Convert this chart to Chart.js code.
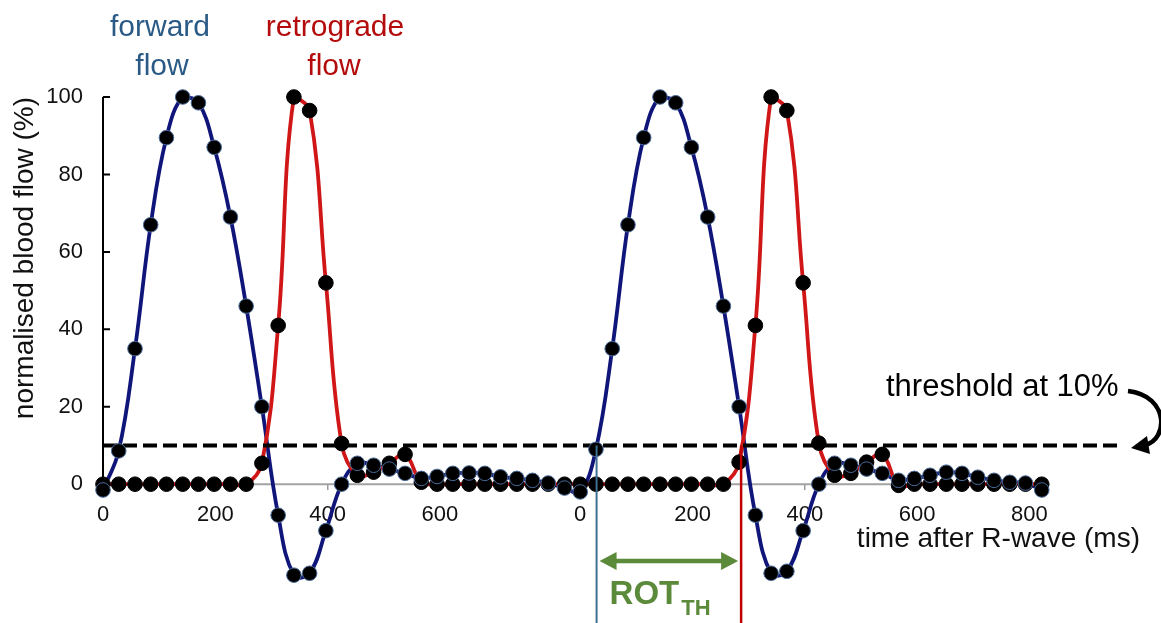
<!DOCTYPE html>
<html>
<head>
<meta charset="utf-8">
<script src="https://cdn.jsdelivr.net/npm/chart.js@4.4.0/dist/chart.umd.min.js"></script>
<style>
  html, body { margin: 0; padding: 0; background: #fff; }
  #wrap { width: 1161px; height: 623px; }
</style>
</head>
<body>
<div id="wrap"><canvas id="myChart" width="1161" height="623"></canvas></div>
<script>
// frame times within one cardiac cycle (ms after R-wave)
const frameTimes = [0, 28, 57, 85, 113, 142, 170, 198, 227, 255, 283, 312, 340, 368, 397, 425, 453, 482, 510, 538, 567, 595, 623, 652, 680, 708, 737, 765, 793, 822]
// where each cycle starts on the time axis
const cycleStarts = [0, 850]

// normalised flow (%) per frame
const forwardCycle1 = [-1.5, 8.6, 35, 67, 89.5, 100, 98.5, 87, 69, 46, 20, -8, -23.5, -23, -12, 0, 5.4, 4.9, 3.9, 2.8, 1.5, 2, 2.8, 2.9, 2.8, 1.9, 1.5, 1, 0.3, -1]
const retroCycle1 = [0, 0, 0, 0, 0, 0, 0, 0, 0, 0, 5.4, 41, 100, 96.5, 52, 10.5, 2.3, 3.1, 5.4, 7.7, 0.5, 0, 0, 0, 0, 0, 0, 0, 0, 0]
const forwardCycle2 = [-2, 9, 35, 67, 89.5, 100, 98.5, 87, 69, 46, 20, -8, -23, -22.5, -12, 0, 5.4, 4.9, 3.9, 2.8, 1, 1.5, 2.3, 3.1, 2.8, 1.8, 1, 0.5, 0.3, -1.5]
const retroCycle2 = [0, 0, 0, 0, 0, 0, 0, 0, 0, 0, 5.7, 41, 100, 96.5, 52, 10.6, 2.3, 2.8, 5.7, 7.7, -0.3, 0, 0, 0, 0, 0, 0, 0, 0, 0]

const xTickValues = [0, 200, 400, 600, 850, 1050, 1250, 1450, 1650]
const xTickLabels = ['0', '200', '400', '600', '0', '200', '400', '600', '800']
const yTickValues = [0, 20, 40, 60, 80, 100]

const thresholdValue = 10
const thresholdSpan = [0, 1810]

const FONT = "'Liberation Sans', Arial, sans-serif"
const BLUE = '#10157a'
const RED = '#d01616'
const GREEN = '#5a8a3a'

function buildPoints(cycles) {
  const pts = []
  cycles.forEach((vals, c) => {
    vals.forEach((v, k) => pts.push({ x: cycleStarts[c] + frameTimes[k], y: v }))
  })
  return pts
}

const forwardPoints = buildPoints([forwardCycle1, forwardCycle2])
const retroPoints = buildPoints([retroCycle1, retroCycle2])
const thresholdPoints = thresholdSpan.map((t) => ({ x: t, y: thresholdValue }))

// first upward crossing of the threshold, linear between frames
function crossingTime(values, level) {
  for (let i = 1; i < values.length; i++) {
    if (values[i - 1] < level && values[i] >= level) {
      const f = (level - values[i - 1]) / (values[i] - values[i - 1])
      return frameTimes[i - 1] + f * (frameTimes[i] - frameTimes[i - 1])
    }
  }
  return null
}

const annotations = {
  id: 'annotations',
  beforeDatasetsDraw(chart) {
    const { ctx, chartArea } = chart
    const xs = chart.scales.x
    const ys = chart.scales.y
    ctx.save()
    // grey zero line, only as far as the data goes
    const lastT = cycleStarts[cycleStarts.length - 1] + frameTimes[frameTimes.length - 1]
    ctx.strokeStyle = '#a3a3a3'
    ctx.lineWidth = 2
    ctx.beginPath()
    ctx.moveTo(xs.getPixelForValue(0), ys.getPixelForValue(0))
    ctx.lineTo(xs.getPixelForValue(lastT), ys.getPixelForValue(0))
    ctx.stroke()
    // y axis line from 0 to 100 with inside ticks
    ctx.strokeStyle = '#000'
    ctx.lineWidth = 2
    ctx.beginPath()
    ctx.moveTo(chartArea.left, ys.getPixelForValue(yTickValues[yTickValues.length - 1]))
    ctx.lineTo(chartArea.left, ys.getPixelForValue(yTickValues[0]))
    yTickValues.forEach((v) => {
      const py = ys.getPixelForValue(v)
      ctx.moveTo(chartArea.left, py)
      ctx.lineTo(chartArea.left + 7, py)
    })
    ctx.stroke()
    ctx.restore()
  },
  afterDatasetsDraw(chart) {
    const { ctx } = chart
    const xs = chart.scales.x
    const ys = chart.scales.y
    ctx.save()

    // ROT_TH markers on the second cycle
    const tFwd = cycleStarts[1] + crossingTime(forwardCycle2, thresholdValue)
    const tRet = cycleStarts[1] + crossingTime(retroCycle2, thresholdValue)
    const xa = xs.getPixelForValue(tFwd)
    const xb = xs.getPixelForValue(tRet)
    const yTh = ys.getPixelForValue(thresholdValue)
    ctx.lineWidth = 2
    ctx.strokeStyle = '#3f6f93'
    ctx.beginPath()
    ctx.moveTo(xa, yTh)
    ctx.lineTo(xa, chart.height)
    ctx.stroke()
    ctx.lineWidth = 2.5
    ctx.strokeStyle = '#c00000'
    ctx.beginPath()
    ctx.moveTo(xb, yTh)
    ctx.lineTo(xb, chart.height)
    ctx.stroke()

    // green double arrow
    const ay = 561
    const l = xa + 3
    const r = xb - 3
    ctx.strokeStyle = GREEN
    ctx.fillStyle = GREEN
    ctx.lineWidth = 4.5
    ctx.beginPath()
    ctx.moveTo(l + 12, ay)
    ctx.lineTo(r - 12, ay)
    ctx.stroke()
    ctx.beginPath()
    ctx.moveTo(l, ay)
    ctx.lineTo(l + 17, ay - 9)
    ctx.lineTo(l + 17, ay + 9)
    ctx.closePath()
    ctx.fill()
    ctx.beginPath()
    ctx.moveTo(r, ay)
    ctx.lineTo(r - 17, ay - 9)
    ctx.lineTo(r - 17, ay + 9)
    ctx.closePath()
    ctx.fill()

    ctx.textAlign = 'left'
    ctx.textBaseline = 'alphabetic'
    ctx.font = 'bold 33px ' + FONT
    ctx.fillText('ROT', xa + 13, 604)
    const w = ctx.measureText('ROT').width
    ctx.font = 'bold 22px ' + FONT
    ctx.fillText('TH', xa + 13 + w + 2, 615)

    // threshold label and curved arrow
    ctx.fillStyle = '#000'
    ctx.font = '31px ' + FONT
    ctx.fillText('threshold at 10%', 886, 396)
    ctx.strokeStyle = '#000'
    ctx.lineWidth = 4.5
    ctx.beginPath()
    ctx.moveTo(1128, 391)
    ctx.bezierCurveTo(1170, 396, 1168, 440, 1145, 445)
    ctx.stroke()
    ctx.beginPath()
    ctx.moveTo(1131, 448)
    ctx.lineTo(1147, 436)
    ctx.lineTo(1150, 454)
    ctx.closePath()
    ctx.fill()

    // series labels
    ctx.textAlign = 'center'
    ctx.font = '30px ' + FONT
    ctx.fillStyle = '#2a5a85'
    ctx.fillText('forward', 160, 36)
    ctx.fillText('flow', 162, 75)
    ctx.fillStyle = '#b40c0c'
    ctx.fillText('retrograde', 335, 36)
    ctx.fillText('flow', 334, 75)

    ctx.restore()
  }
}

const data = {
  datasets: [
    {
      label: 'forward flow points',
      data: forwardPoints,
      showLine: false,
      pointRadius: 7.3,
      pointBackgroundColor: '#000',
      pointBorderColor: '#4a6a9a',
      pointBorderWidth: 1,
      clip: false,
      order: 0,
    },
    {
      label: 'retrograde flow points',
      data: retroPoints,
      showLine: false,
      pointRadius: 7.3,
      pointBackgroundColor: '#000',
      pointBorderColor: '#000',
      pointBorderWidth: 1,
      clip: false,
      order: 1,
    },
    {
      label: 'threshold',
      data: thresholdPoints,
      borderColor: '#000',
      borderWidth: 4,
      borderDash: [14, 6],
      pointRadius: 0,
      tension: 0,
      clip: false,
      order: 2,
    },
    {
      label: 'retrograde flow',
      data: retroPoints,
      borderColor: RED,
      borderWidth: 3.8,
      pointRadius: 0,
      tension: 0.4,
      clip: false,
      order: 3,
    },
    {
      label: 'forward flow',
      data: forwardPoints,
      borderColor: BLUE,
      borderWidth: 3.8,
      pointRadius: 0,
      tension: 0.4,
      clip: false,
      order: 4,
    },
  ],
}

const config = {
  type: 'line',
  data: data,
  options: {
    responsive: false,
    animation: false,
    layout: { padding: { left: 0, right: 21, top: 97, bottom: 42 } },
    plugins: {
      legend: { display: false },
      tooltip: { enabled: false },
    },
    scales: {
      x: {
        type: 'linear',
        min: 0,
        max: 1847,
        position: { y: 0 },
        afterBuildTicks: (scale) => {
          scale.ticks = xTickValues.map((v) => ({ value: v }))
        },
        ticks: {
          callback: (v, i) => xTickLabels[i],
          autoSkip: false,
          maxRotation: 0,
          padding: 12,
          color: '#111',
          font: { family: FONT, size: 22 },
        },
        grid: { drawOnChartArea: false, drawTicks: true, tickLength: 6, color: '#9a9a9a', lineWidth: 1.5 },
        border: { display: false },
        title: {
          display: true,
          text: 'time after R-wave (ms)',
          align: 'end',
          color: '#111',
          font: { family: FONT, size: 28 },
          padding: { top: -18, bottom: 0 },
        },
      },
      y: {
        min: -25,
        max: 100,
        afterBuildTicks: (scale) => {
          scale.ticks = yTickValues.map((v) => ({ value: v }))
        },
        afterFit: (scale) => {
          scale.width = 103
        },
        ticks: {
          padding: 20,
          color: '#111',
          font: { family: FONT, size: 22 },
        },
        grid: { display: false, drawTicks: false },
        border: { display: false },
        title: {
          display: true,
          text: 'normalised blood flow (%)',
          align: 'end',
          color: '#111',
          font: { family: FONT, size: 28 },
          padding: { top: 8, bottom: 0 },
        },
      },
    },
  },
  plugins: [annotations],
}

const myChart = new Chart(document.getElementById('myChart'), config)
</script>
</body>
</html>
